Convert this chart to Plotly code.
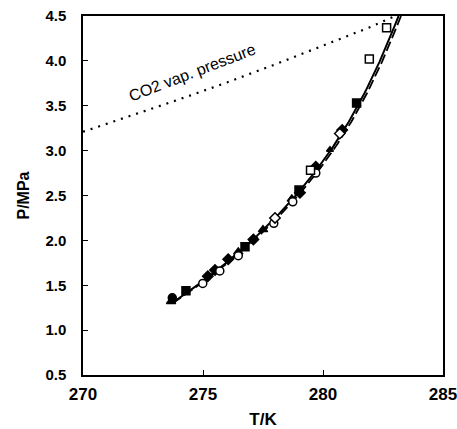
import plotly.graph_objects as go
import numpy as np

# Solid (model) curve
solid_T = [273.6, 274.9, 277.05, 278.83, 280.3, 281.38, 282.5, 283.1]
solid_P = [1.30, 1.50, 2.00, 2.50, 3.00, 3.50, 4.00, 4.50]
# Dashed (model) curve
dash_T = [273.62, 274.97, 277.12, 278.92, 280.42, 281.48, 282.6, 283.2]
dash_P = [1.30, 1.50, 2.00, 2.50, 3.00, 3.50, 4.00, 4.50]
# CO2 vapour pressure
vap_T = [270, 272, 274, 276, 278, 280, 282, 283]
vap_P = [3.21, 3.39, 3.57, 3.76, 3.96, 4.17, 4.38, 4.50]

# Experimental points
fcirc_T = [273.72]
fcirc_P = [1.36]
fsq_T = [274.29, 276.75, 279.0, 281.4]
fsq_P = [1.44, 1.93, 2.56, 3.53]
ftri_T = [273.67, 276.47, 277.5, 278.7]
ftri_P = [1.32, 1.87, 2.12, 2.46]
fdia_T = [275.2, 275.5, 276.05, 277.1, 279.04, 279.7, 280.8]
fdia_P = [1.60, 1.67, 1.79, 2.01, 2.53, 2.82, 3.23]
ocirc_T = [274.99, 275.7, 276.47, 277.95, 278.74, 279.7]
ocirc_P = [1.52, 1.66, 1.83, 2.19, 2.43, 2.75]
odia_T = [278.0, 280.7]
odia_P = [2.25, 3.19]
osq_T = [279.48, 281.93, 282.65]
osq_P = [2.78, 4.02, 4.37]
stri_T = [280.29]
stri_P = [3.01]

x_ticks = [270, 275, 280, 285]
y_ticks = [0.5, 1.0, 1.5, 2.0, 2.5, 3.0, 3.5, 4.0, 4.5]

def smooth(T, P, n=120):
    p = np.array(P); t = np.array(T)
    pp = np.linspace(p.min(), p.max(), n)
    coef = np.polyfit(p, t, 3)
    return np.polyval(coef, pp), pp

FONT = "Liberation Sans"
fig = go.Figure()
sx, sy = smooth(solid_T, solid_P)
fig.add_trace(go.Scatter(x=sx, y=sy, mode="lines", line=dict(color="black", width=2)))
dx, dy = smooth(dash_T, dash_P)
fig.add_trace(go.Scatter(x=dx, y=dy, mode="lines", line=dict(color="black", width=1.8, dash="10px,4px")))
fig.add_trace(go.Scatter(x=vap_T, y=vap_P, mode="lines",
                         line=dict(color="black", width=2.2, dash="2px,6px")))

def pts(T, P, sym, size=8, open_=False):
    fig.add_trace(go.Scatter(x=T, y=P, mode="markers",
        marker=dict(symbol=sym, size=size, color="white" if open_ else "black",
                    line=dict(color="black", width=1.5))))

pts(fcirc_T, fcirc_P, "circle")
pts(fsq_T, fsq_P, "square")
pts(ftri_T, ftri_P, "triangle-up")
pts(fdia_T, fdia_P, "diamond")
pts(ocirc_T, ocirc_P, "circle", open_=True)
pts(odia_T, odia_P, "diamond", open_=True)
pts(osq_T, osq_P, "square", open_=True)
pts(stri_T, stri_P, "triangle-up", size=6)

fig.add_annotation(x=274.55, y=3.87, text="CO2 vap. pressure", showarrow=False,
                   textangle=-21, font=dict(size=16, color="black", family=FONT))

axis_common = dict(showgrid=False, zeroline=False, showline=True, linecolor="black",
                   linewidth=1.5, mirror=True, ticks="inside", ticklen=5, tickcolor="black",
                   tickwidth=1, ticklabeloverflow="allow", automargin=False)
fig.update_xaxes(range=[270, 285], tickvals=x_ticks, ticktext=[f"<b>{v}</b>" for v in x_ticks],
                 tickfont=dict(size=17, color="black", family=FONT), ticklabelstandoff=3,
                 title=dict(text="<b>T/K</b>", font=dict(size=17, color="black", family=FONT), standoff=12),
                 **axis_common)
fig.update_yaxes(range=[0.5, 4.5], tickvals=y_ticks, ticktext=[f"<b>{v:.1f}</b>" for v in y_ticks],
                 tickfont=dict(size=15, color="black", family=FONT), ticklabelstandoff=12,
                 title=dict(text="<b>P/MPa</b>", font=dict(size=16, color="black", family=FONT), standoff=12),
                 **axis_common)
fig.update_layout(width=457, height=429, margin=dict(l=83, r=14, t=16, b=54),
                  plot_bgcolor="white", paper_bgcolor="white", showlegend=False)
fig.write_html("out.html", config={"displayModeBar": False},
               post_script="document.body.style.margin='0';document.body.style.overflow='hidden';")
